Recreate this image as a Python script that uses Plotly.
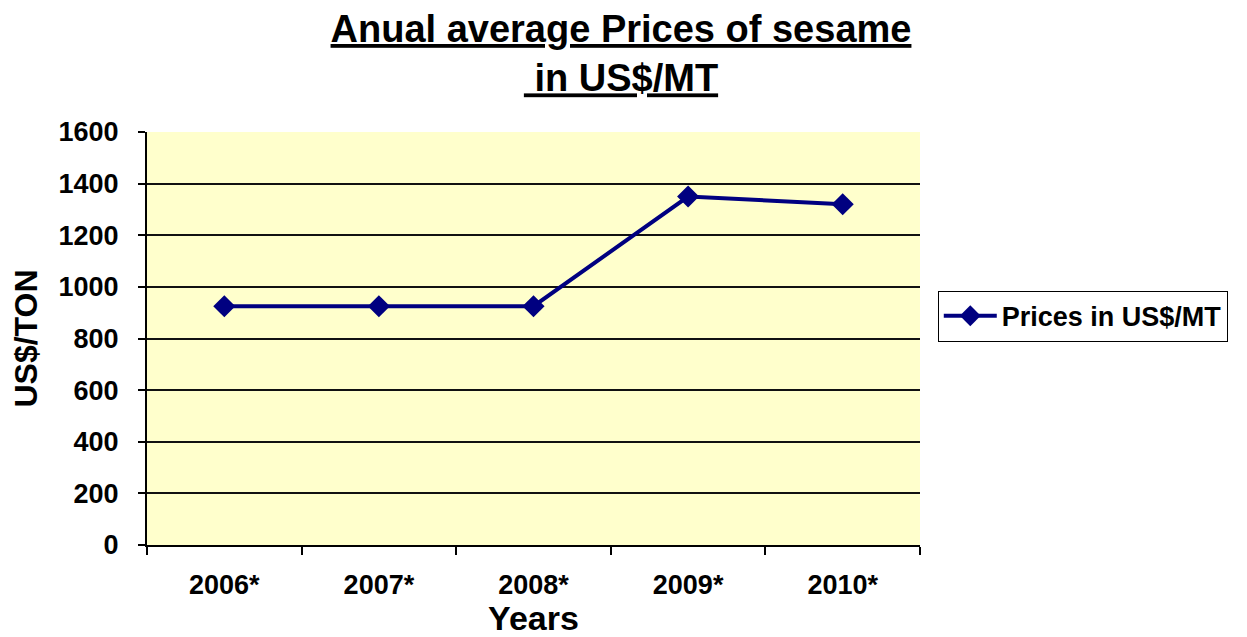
import plotly.graph_objects as go

years = ["2006*", "2007*", "2008*", "2009*", "2010*"]
prices = [925, 925, 925, 1350, 1320]
series_name = "Prices in US$/MT"
y_ticks = [0, 200, 400, 600, 800, 1000, 1200, 1400, 1600]

FONT = "Liberation Sans, Arial, sans-serif"

# page body has an 8px margin, so the figure is shrunk by 8px and margins shifted
W, H = 1239, 629

fig = go.Figure()
fig.add_trace(go.Scatter(
    x=years, y=prices, name=series_name, mode="lines+markers",
    line=dict(color="#000080", width=4),
    marker=dict(symbol="diamond", size=17, color="#000080"),
))

fig.update_layout(
    width=W, height=H,
    margin=dict(l=139, r=327, t=124, b=92),
    paper_bgcolor="white", plot_bgcolor="#FFFFCC",
    font=dict(family=FONT, color="black", size=27, weight="bold"),
    showlegend=True,
    title=dict(
        text="<u>Anual average Prices of sesame</u><br><u>&nbsp;in US$/MT</u>",
        x=613/W, xref="container", xanchor="center",
        y=1 - 34/H, yref="container", yanchor="top",
        font=dict(family=FONT, size=38, weight="bold", color="black"),
    ),
    legend=dict(
        x=1.023, y=0.554, xanchor="left", yanchor="middle",
        bgcolor="white", bordercolor="black", borderwidth=1,
        font=dict(family=FONT, size=27, weight="bold", color="black"),
        itemwidth=53,
    ),
)

fig.update_xaxes(
    type="category", tickson="boundaries", automargin=False,
    range=[-0.5, len(years) - 0.5],
    showline=True, linecolor="black", linewidth=2,
    ticks="outside", ticklen=8, tickwidth=2, tickcolor="black",
    showgrid=False, ticklabelstandoff=15,
    tickfont=dict(family=FONT, size=27, weight="bold"),
    title=dict(text="Years", standoff=12,
               font=dict(family=FONT, size=34, weight="bold")),
)
fig.update_yaxes(
    range=[0, 1600], tickvals=y_ticks, automargin=False,
    showline=True, linecolor="black", linewidth=2,
    ticks="outside", ticklen=7, tickwidth=2, tickcolor="black",
    showgrid=True, gridcolor="#111111", gridwidth=1.5,
    zeroline=False, ticklabelstandoff=14,
    tickfont=dict(family=FONT, size=27, weight="bold"),
    title=dict(text="US$/TON", standoff=12,
               font=dict(family=FONT, size=32, weight="bold")),
)

fig.write_html("out.html")
